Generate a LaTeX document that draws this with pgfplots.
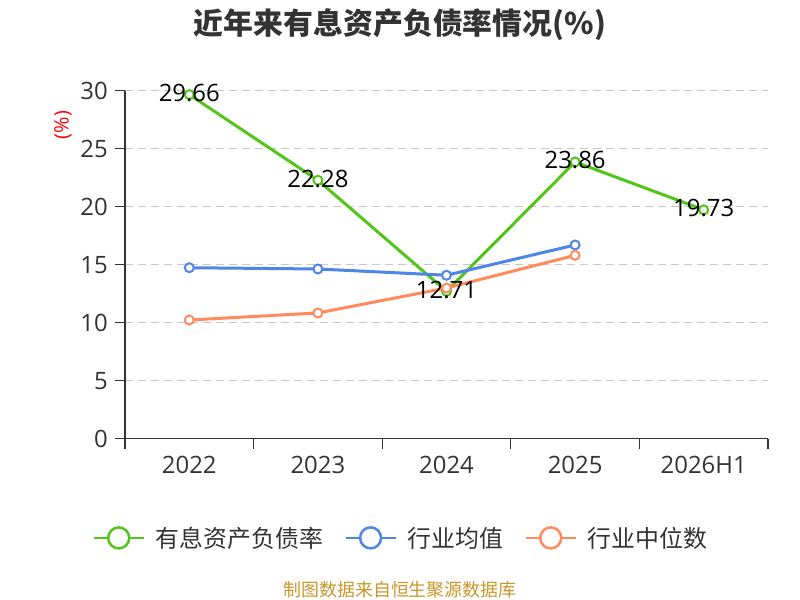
\documentclass[border=0pt]{standalone}
\usepackage{pgfplots}
\pgfplotsset{compat=1.18}
\usepackage{fontspec}
\setmainfont{Open Sans}
\newfontfamily\cjk{Noto Sans CJK SC}
\definecolor{cgreen}{HTML}{52C41A}
\definecolor{cblue}{HTML}{4E86E6}
\definecolor{corange}{HTML}{FF8A5B}
\definecolor{ctext}{HTML}{333333}
\definecolor{cgrid}{HTML}{C8C8C8}
\definecolor{cfoot}{HTML}{C8962A}
\begin{document}
\begin{tikzpicture}
\path[use as bounding box] (0bp,0bp) rectangle (800bp,600bp);
\node[font=\cjk\bfseries\fontsize{30}{36}\selectfont, text=ctext] at (400bp,575bp) {近年来有息资产负债率情况(\%)};
\node[font=\cjk\fontsize{18}{22}\selectfont, text=cfoot] at (400bp,10bp) {制图数据来自恒生聚源数据库};
\begin{axis}[
  at={(125bp,161.3bp)}, anchor=south west,
  width=643bp, height=348bp, scale only axis,
  xmin=-0.5, xmax=4.5, ymin=0, ymax=30,
  axis x line*=bottom, axis y line*=left,
  axis line style={ctext, line width=1.2bp},
  xtick={-0.5,0.5,1.5,2.5,3.5,4.5},
  x tick label as interval,
  xticklabels={2022,2023,2024,2025,2026H1},
  ytick={0,5,...,30},
  tick align=outside,
  major tick length=10bp,
  tick style={ctext, line width=1.2bp},
  ymajorgrids,
  grid style={cgrid, line width=1.3bp, dash pattern=on 8bp off 5bp},
  /pgf/number format/assume math mode=true,
  ticklabel style={font=\fontsize{24}{28}\selectfont, text=ctext},
  yticklabel style={inner sep=0pt, xshift=-7bp},
  xticklabel style={inner sep=0pt, yshift=-7bp},
  ylabel={(\%)},
  ylabel style={at={(axis description cs:-0.0964,0.901)}, anchor=center, text=red, font=\fontsize{20}{24}\selectfont},
  legend columns=3,
  legend style={at={(axis description cs:0.4277,-0.285)}, anchor=center, draw=none, fill=none,
    font=\cjk\fontsize{24}{28}\selectfont, text=ctext,
    /tikz/every odd column/.append style={column sep=11bp},
    /tikz/every even column/.append style={column sep=21bp},
    nodes={inner sep=0pt, anchor=west}},
  every axis plot/.append style={line width=3bp, mark=*, mark size=4.5bp,
    mark options={fill=white, line width=2bp}},
  legend image code/.code={
    \draw[line width=2.5bp] (0bp,0bp) -- (50bp,0bp);
    \draw[line width=2.5bp, fill=white] (25bp,0bp) circle (10.5bp);
  },
  clip=false,
]
\addplot[cgreen, nodes near coords,
  every node near coord/.append style={anchor=center, text=black, font=\fontsize{24}{28}\selectfont, yshift=1.5bp},
  /pgf/number format/.cd, fixed, fixed zerofill, precision=2]
  coordinates {(0,29.66) (1,22.28) (2,12.71) (3,23.86) (4,19.73)};
\addlegendentry{有息资产负债率}
\addplot[cblue] coordinates {(0,14.74) (1,14.63) (2,14.09) (3,16.70)};
\addlegendentry{行业均值}
\addplot[corange] coordinates {(0,10.23) (1,10.84) (2,12.99) (3,15.81)};
\addlegendentry{行业中位数}
\end{axis}
\end{tikzpicture}
\end{document}
